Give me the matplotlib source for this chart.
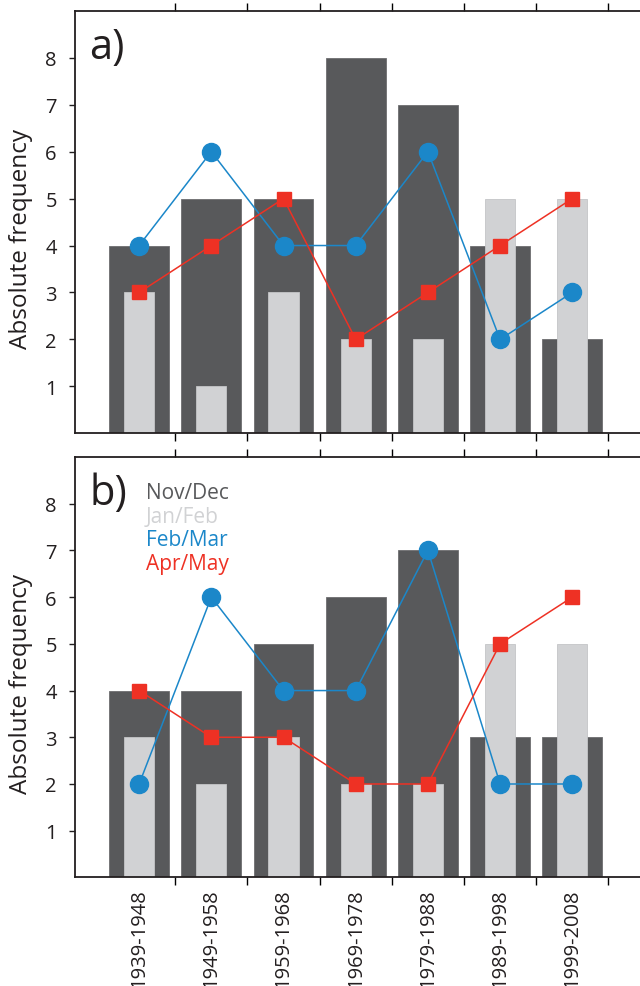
import numpy as np
import matplotlib.pyplot as plt

plt.rcParams['font.family'] = ['Open Sans', 'DejaVu Sans']

decades = ['1939-1948', '1949-1958', '1959-1968', '1969-1978',
           '1979-1988', '1989-1998', '1999-2008']

# panel a
nov_dec_a = [4, 5, 5, 8, 7, 4, 2]
jan_feb_a = [3, 1, 3, 2, 2, 5, 5]
feb_mar_a = [4, 6, 4, 4, 6, 2, 3]
apr_may_a = [3, 4, 5, 2, 3, 4, 5]

# panel b
nov_dec_b = [4, 4, 5, 6, 7, 3, 3]
jan_feb_b = [3, 2, 3, 2, 2, 5, 5]
feb_mar_b = [2, 6, 4, 4, 7, 2, 2]
apr_may_b = [4, 3, 3, 2, 2, 5, 6]

DARK = '#58595b'
LIGHT = '#d1d2d4'
BLUE = '#1b87c9'
RED = '#ee3124'
INK = '#231f20'

fig = plt.figure(figsize=(6.4, 9.87), dpi=100)
ax_a = fig.add_axes([0.117, 0.560, 0.89, 0.428])
ax_b = fig.add_axes([0.117, 0.110, 0.89, 0.426])

x = np.arange(len(decades))


def draw_panel(ax, nov, jan, feb, apr, tag):
	ax.bar(x, nov, width=0.83, color=DARK, edgecolor='#6d6e70', linewidth=0.6, zorder=1)
	ax.bar(x, jan, width=0.42, color=LIGHT, edgecolor='#c4c5c7', linewidth=0.6, zorder=2)
	ax.plot(x, feb, color=BLUE, lw=1.1, marker='o', ms=13, zorder=3)
	ax.plot(x, apr, color=RED, lw=1.1, marker='s', ms=10.5, zorder=4)

	ax.set_xlim(-0.89, 7.0)
	ax.set_ylim(0, 9)
	ax.set_yticks(range(1, 9))
	ax.tick_params(axis='y', labelsize=14.5, length=4, width=1, pad=9, direction='out', colors=INK)
	ax.set_ylabel('Absolute frequency', fontsize=17.5, color=INK)
	ax.yaxis.set_label_coords(-0.073, 0.462)

	# labels at the bar centres, tick marks between decades
	ax.set_xticks(x)
	ax.set_xticks(x + 0.5, minor=True)
	ax.tick_params(axis='x', which='major', length=0, labelsize=14.5, pad=8)
	ax.tick_params(axis='x', which='minor', length=6, width=1, top=True, bottom=True, direction='out')
	ax.spines['right'].set_visible(False)
	for s in ['left', 'bottom', 'top']:
		ax.spines[s].set_linewidth(1.3)
		ax.spines[s].set_color(INK)

	ax.text(0.025, 0.965, tag, transform=ax.transAxes, fontsize=30, va='top', ha='left', color=INK)


draw_panel(ax_a, nov_dec_a, jan_feb_a, feb_mar_a, apr_may_a, 'a)')
draw_panel(ax_b, nov_dec_b, jan_feb_b, feb_mar_b, apr_may_b, 'b)')

ax_a.set_xticklabels([])
ax_b.set_xticklabels(decades, rotation=90, color=INK)

# legend as coloured text
legend = [('Nov/Dec', DARK), ('Jan/Feb', LIGHT), ('Feb/Mar', BLUE), ('Apr/May', RED)]
for i, (name, col) in enumerate(legend):
	ax_b.text(0.125, 0.915 - i * 0.056, name, transform=ax_b.transAxes,
			  fontsize=15, color=col, va='center', ha='left')

fig.savefig('out.png', dpi=100)
